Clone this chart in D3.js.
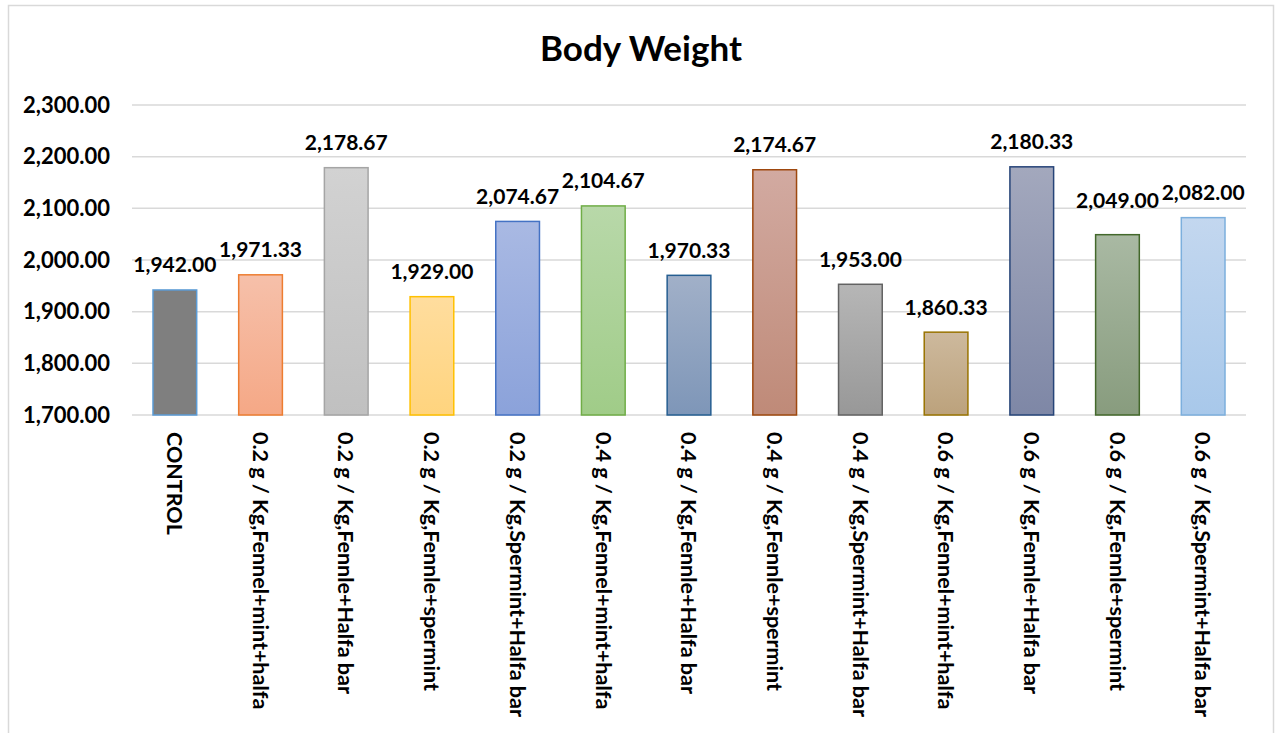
<!DOCTYPE html>
<html>
<head>
<meta charset="utf-8">
<script src="https://cdn.jsdelivr.net/npm/d3@7"></script>
<style>
  html, body { margin: 0; padding: 0; background: #fff; }
  svg { display: block; }
  text { font-family: Lato, "Open Sans", sans-serif; font-weight: 700; fill: #000; }
</style>
</head>
<body>
<svg id="chart" width="1277" height="733"></svg>
<script>
// Body weight per treatment group
const categories = [
  "CONTROL",
  "0.2 g / Kg,Fennel+mint+halfa",
  "0.2 g / Kg,Fennle+Halfa bar",
  "0.2 g / Kg,Fennle+spermint",
  "0.2 g / Kg,Spermint+Halfa bar",
  "0.4 g / Kg,Fennel+mint+halfa",
  "0.4 g / Kg,Fennle+Halfa bar",
  "0.4 g / Kg,Fennle+spermint",
  "0.4 g / Kg,Spermint+Halfa bar",
  "0.6 g / Kg,Fennel+mint+halfa",
  "0.6 g / Kg,Fennle+Halfa bar",
  "0.6 g / Kg,Fennle+spermint",
  "0.6 g / Kg,Spermint+Halfa bar"
];
const bodyWeight = [1942.00, 1971.33, 2178.67, 1929.00, 2074.67, 2104.67, 1970.33, 2174.67, 1953.00, 1860.33, 2180.33, 2049.00, 2082.00];
const yTicks = [1700, 1800, 1900, 2000, 2100, 2200, 2300];

// bar fills: gradient top, gradient bottom, outline
const fillTop    = ["#7f7f7f", "#f6c0aa", "#d2d2d2", "#ffdd9e", "#a9b9e3", "#b8d8a9", "#a1b0c8", "#d2aaa1", "#b6b6b6", "#cdb99d", "#a3a8bd", "#a9b9a3", "#c3d7ef"];
const fillBottom = ["#7f7f7f", "#f5a886", "#c0c0c0", "#ffd47e", "#8ba2da", "#a0cc88", "#7e96b8", "#bf8a78", "#989898", "#bca27c", "#7e87a6", "#889c7e", "#a8c8ea"];
const outline    = ["#5b9bd5", "#ed7d31", "#a5a5a5", "#ffc000", "#4472c4", "#70ad47", "#255e91", "#9e480e", "#636363", "#997300", "#264478", "#43682b", "#7cafdd"];

const svg = d3.select("#chart");
const margin = { left: 132, right: 1246, top: 105, bottom: 415 };

// outer chart frame
svg.append("rect")
  .attr("x", 8.5).attr("y", 5.5)
  .attr("width", 1265).attr("height", 740)
  .attr("fill", "#fff").attr("stroke", "#d9d9d9").attr("stroke-width", 1.5);

svg.append("text")
  .attr("x", 641).attr("y", 61)
  .attr("text-anchor", "middle")
  .style("font-size", "35px")
  .text("Body Weight");

const x = d3.scaleBand().domain(categories).range([margin.left, margin.right]).paddingInner(0.49).paddingOuter(0.245);
const y = d3.scaleLinear().domain([1700, 2300]).range([margin.bottom, margin.top]);

// horizontal gridlines
svg.append("g")
  .selectAll("line").data(yTicks).join("line")
  .attr("x1", margin.left).attr("x2", margin.right)
  .attr("y1", d => y(d)).attr("y2", d => y(d))
  .attr("stroke", "#d9d9d9").attr("stroke-width", 1.5);

// value axis labels
const yAxis = d3.axisLeft(y).tickValues(yTicks).tickSize(0).tickPadding(0)
  .tickFormat(d3.format(",.2f"));
const yg = svg.append("g").attr("transform", `translate(110,0)`).call(yAxis);
yg.select(".domain").remove();
yg.selectAll("text").style("font-size", "22px").style("font-family", "Lato, sans-serif").style("font-weight", 700).attr("fill", "#000");

// per-bar vertical gradients
const defs = svg.append("defs");
categories.forEach((c, i) => {
  const g = defs.append("linearGradient").attr("id", "grad" + i)
    .attr("x1", 0).attr("y1", 0).attr("x2", 0).attr("y2", 1);
  g.append("stop").attr("offset", "0%").attr("stop-color", fillTop[i]);
  g.append("stop").attr("offset", "100%").attr("stop-color", fillBottom[i]);
});

const rows = categories.map((c, i) => ({ c, v: bodyWeight[i], i }));

svg.append("g")
  .selectAll("rect").data(rows).join("rect")
  .attr("x", d => x(d.c))
  .attr("y", d => y(d.v))
  .attr("width", x.bandwidth())
  .attr("height", d => y(1700) - y(d.v))
  .attr("fill", d => `url(#grad${d.i})`)
  .attr("stroke", d => outline[d.i])
  .attr("stroke-width", 1.5);

// value labels above the bars; one label lifted to clear its neighbour
const lift = { 11: 9 };
svg.append("g")
  .selectAll("text").data(rows).join("text")
  .attr("x", d => x(d.c) + x.bandwidth() / 2)
  .attr("y", d => y(d.v) - 17.5 - (lift[d.i] || 0))
  .attr("text-anchor", "middle")
  .style("font-size", "21px")
  .text(d => d3.format(",.2f")(d.v));

// category labels, rotated to read downward
svg.append("g")
  .selectAll("text").data(categories).join("text")
  .attr("transform", d => `translate(${x(d) + x.bandwidth() / 2},432) rotate(90)`)
  .attr("dy", "0.36em")
  .style("font-size", "21.5px")
  .text(d => d);
</script>
</body>
</html>
